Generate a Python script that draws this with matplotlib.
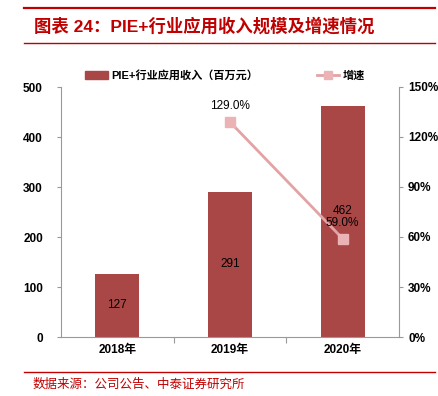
import matplotlib.pyplot as plt
from matplotlib.lines import Line2D
from matplotlib.patches import Patch

plt.rcParams['font.family'] = ['Liberation Sans', 'Noto Sans CJK SC', 'DejaVu Sans']

years = ['2018年', '2019年', '2020年']
revenue = [127, 291, 462]
growth_years = [1, 2]
growth = [129.0, 59.0]

bar_color = '#A94646'
line_color = '#E3A3A5'
red = '#C00000'

fig = plt.figure(figsize=(4.39, 3.96), dpi=100)

# header / footer lines and text
fig.add_artist(Line2D([24 / 439, 435 / 439], [1 - 8 / 396, 1 - 8 / 396], color=red, lw=1.6))
fig.add_artist(Line2D([24 / 439, 435 / 439], [1 - 43 / 396, 1 - 43 / 396], color=red, lw=1.0))
fig.text(34 / 439, 1 - 26 / 396, '图表 24：PIE+行业应用收入规模及增速情况', color=red,
         fontsize=12.5, fontweight='bold', va='center', ha='left')
fig.add_artist(Line2D([24 / 439, 435 / 439], [1 - 372 / 396, 1 - 372 / 396], color=red, lw=1.0))
fig.text(33 / 439, 1 - 385 / 396, '数据来源：公司公告、中泰证券研究所', color=red,
         fontsize=9, va='center', ha='left')

ax = fig.add_axes([61 / 439, 59 / 396, 338 / 439, 250 / 396])
x = range(len(years))
bars = ax.bar(x, revenue, width=0.39, color=bar_color, zorder=2)
ax.set_xlim(-0.5, 2.5)
ax.set_ylim(0, 500)
ax.set_yticks([0, 100, 200, 300, 400, 500])
ax.set_xticks([0.5, 1.5])
ax.set_xticklabels([])
for i, y in enumerate(years):
    ax.text(i, -14, y, ha='center', va='top', fontsize=8.5, fontweight='bold')
for i, v in enumerate(revenue):
    # last label sits higher so it clears the growth label
    ypos = v / 2 + (20 if i == len(revenue) - 1 else 0)
    ax.text(i, ypos, str(v), ha='center', va='center', fontsize=8.5)

for s in ['top', 'right']:
    ax.spines[s].set_visible(False)
for s in ['left', 'bottom']:
    ax.spines[s].set_color('#999999')
ax.tick_params(axis='y', colors='#999999', labelcolor='black', labelsize=8.5, length=3, pad=10)
ax.tick_params(axis='x', colors='#999999', length=4)
for t in ax.get_yticklabels():
    t.set_fontweight('bold')

ax2 = ax.twinx()
ax2.plot(growth_years, growth, color=line_color, lw=2, marker='s', markersize=7,
         markerfacecolor='#EBB3B5', markeredgecolor='#EBB3B5', zorder=3)
ax2.set_ylim(0, 150)
ax2.set_yticks([0, 30, 60, 90, 120, 150])
ax2.set_yticklabels([f'{v}%' for v in [0, 30, 60, 90, 120, 150]])
for s in ['top', 'left', 'bottom']:
    ax2.spines[s].set_visible(False)
ax2.spines['right'].set_color('#999999')
ax2.tick_params(axis='y', colors='#999999', labelcolor='black', labelsize=8.5, length=3)
for t in ax2.get_yticklabels():
    t.set_fontweight('bold')
for xi, g in zip(growth_years, growth):
    ax2.text(xi, g + 9.5, f'{g:.1f}%', ha='center', va='center', fontsize=8.5)

handles = [Patch(color=bar_color), Line2D([], [], color=line_color, lw=2, marker='s',
                                           markersize=6, markerfacecolor='#EBB3B5',
                                           markeredgecolor='#EBB3B5')]
ax.legend(handles, ['PIE+行业应用收入（百万元）', '增速'], ncol=2, frameon=False,
          loc='lower center', bbox_to_anchor=(0.485, 0.985),
          columnspacing=5.3, handlelength=2.0, handletextpad=0.3,
          prop={'weight': 'bold', 'size': 8})

fig.savefig('out.png', dpi=100)
